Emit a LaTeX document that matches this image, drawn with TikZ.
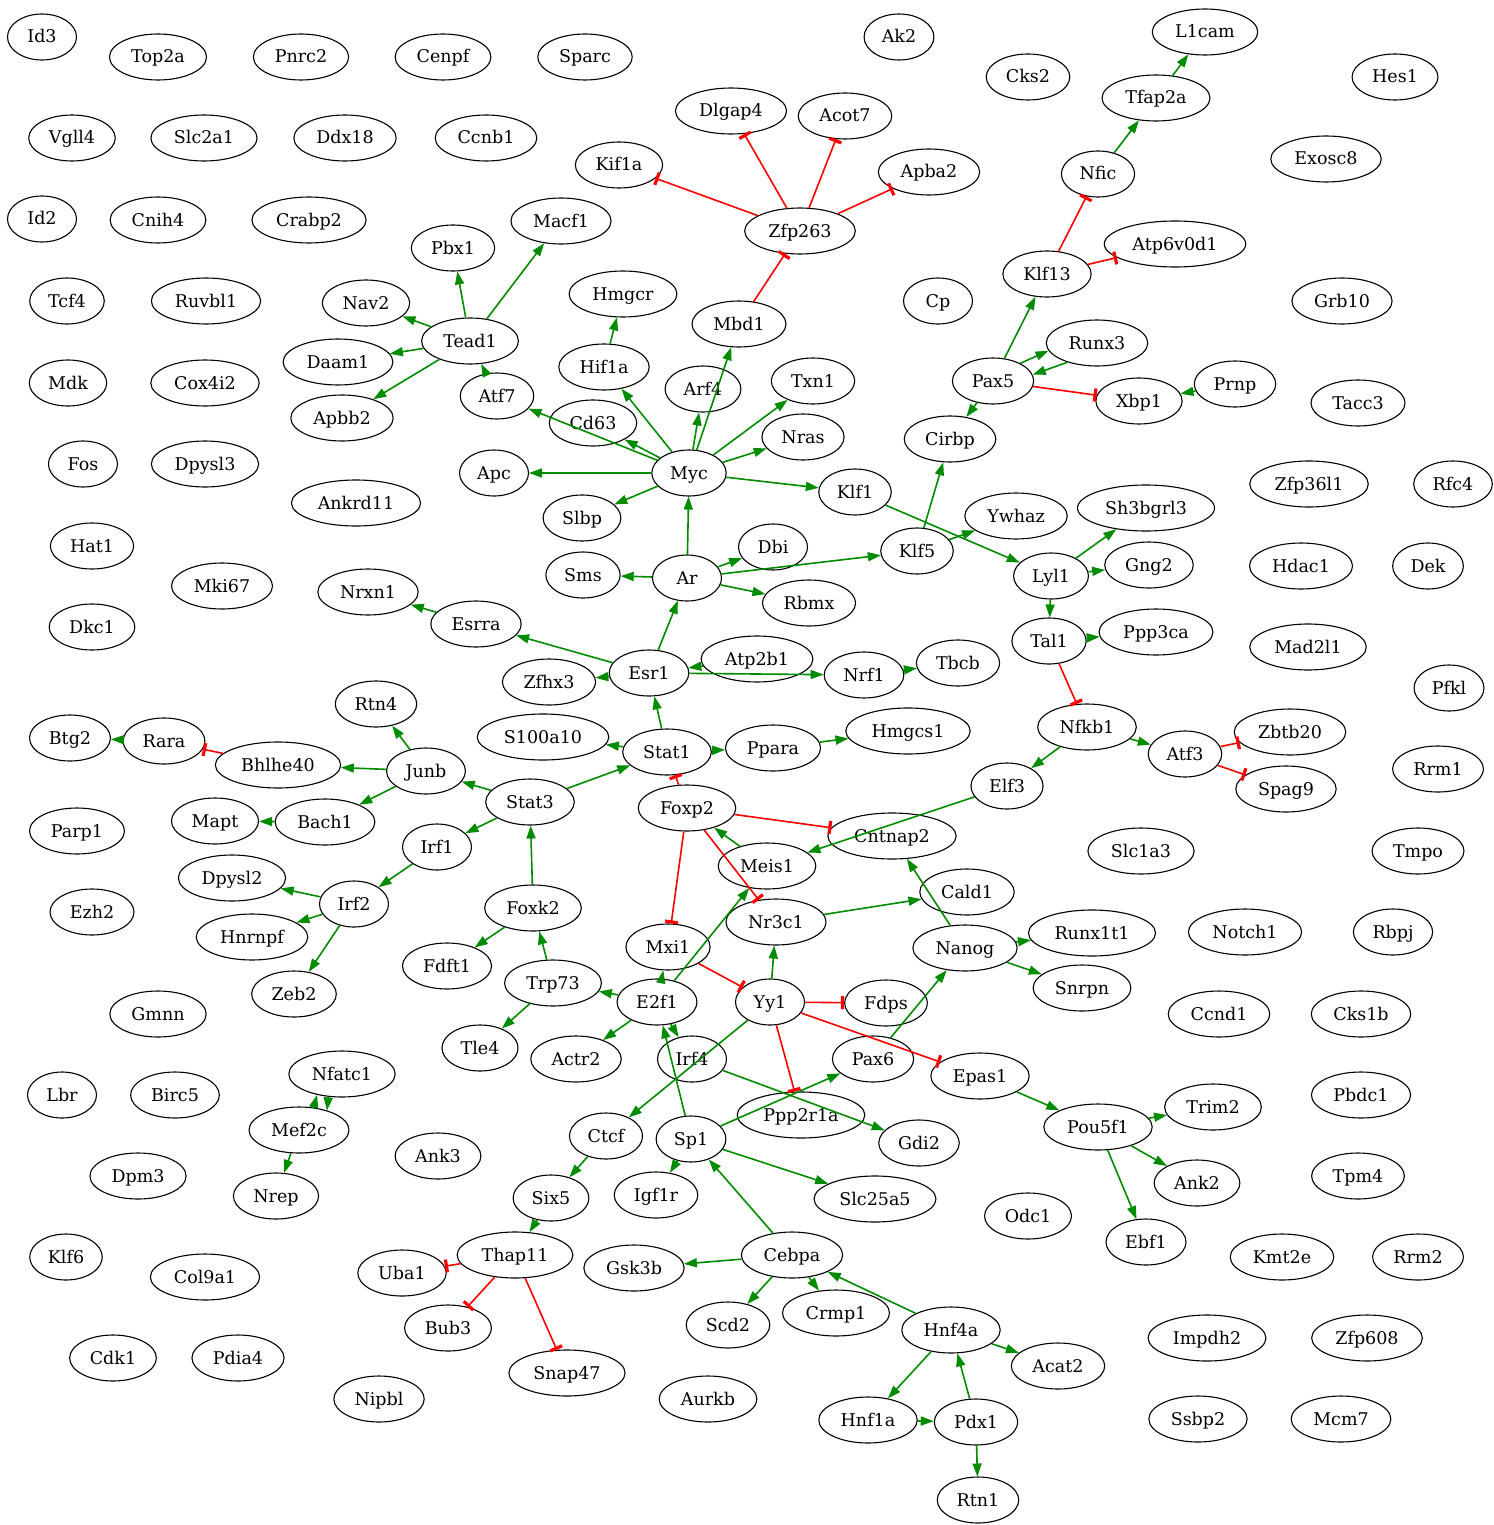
\documentclass[tikz,border=0pt]{standalone}
\usepackage{fontspec}
\setmainfont{DejaVu Serif}
\usetikzlibrary{shapes.geometric,arrows.meta}
\definecolor{grn}{RGB}{0,139,0}
\definecolor{rd}{RGB}{255,0,0}
\tikzset{
  g/.style={ellipse, draw=black, line width=1.1pt, minimum width=69pt, minimum height=46pt,
    inner xsep=7.5pt, inner ysep=2pt, text height=15pt, text depth=3pt,
    font=\fontsize{17.5}{20}\selectfont},
  act/.style={draw=grn, line width=1.6pt, -{Triangle[length=13pt,width=9pt]}},
  inh/.style={draw=rd, line width=1.6pt, -{Bar[width=13pt,line width=3.2pt]}}
}
\begin{document}
\begin{tikzpicture}[x=1pt,y=-1pt]
\useasboundingbox (0,0) rectangle (1493,1525);
\foreach \n/\x/\y in {
Id3/42/37, Top2a/158/57, Pnrc2/301/57, Cenpf/443/57, Sparc/585/57, Ak2/899/37, Cks2/1028/77,
L1cam/1205/32, Hes1/1395/77, Vgll4/72/138, Slc2a1/204/138, Ddx18/345/138, Ccnb1/486/138,
Dlgap4/731/111, Acot7/845/116, Tfap2a/1156/98, Exosc8/1326/159, Kif1a/619/165, Apba2/929/172,
Nfic/1098/174, Id2/42/219, Cnih4/158/220, Crabp2/309/220, Macf1/561/221, Zfp263/800/231,
Atp6v0d1/1175/244, Pbx1/453/248, Klf13/1047/274, Hmgcr/623/294, Tcf4/67/301, Ruvbl1/206/301,
Nav2/366/303, Cp/938/301, Grb10/1342/301, Mbd1/739/324, Tead1/470/341, Runx3/1097/343,
Daam1/338/362, Hif1a/604/367, Mdk/68/383, Cox4i2/205/383, Pax5/993/381, Txn1/813/381,
Prnp/1235/384, Arf4/703/389, Atf7/497/396, Xbp1/1139/401, Tacc3/1358/403, Apbb2/342/418,
Cd63/593/423, Nras/803/437, Cirbp/950/439, Fos/83/464, Dpysl3/205/464, Apc/494/473, Myc/689/473,
Zfp36l1/1309/484, Rfc4/1453/484, Klf1/855/492, Ankrd11/356/503, Sh3bgrl3/1146/508,
Ywhaz/1016/516, Slbp/582/518, Hat1/92/546, Dbi/773/547, Klf5/917/551, Hdac1/1301/566,
Dek/1428/566, Gng2/1149/565, Sms/583/575, Ar/687/578, Lyl1/1051/576, Mki67/222/586,
Nrxn1/368/592, Rbmx/809/603, Esrra/476/624, Dkc1/92/627, Ppp3ca/1156/632, Tal1/1049/641,
Mad2l1/1308/647, Atp2b1/757/659, Tbcb/958/663, Esr1/649/673, Nrf1/864/675, Zfhx3/549/682,
Pfkl/1449/688, Rtn4/376/704, Nfkb1/1087/727, Hmgcs1/908/731, Zbtb20/1290/732, S100a10/543/737,
Btg2/70/738, Rara/164/741, Ppara/773/748, Stat1/667/752, Atf3/1185/754, Bhlhe40/278/765,
Junb/426/771, Rrm1/1438/769, Elf3/1007/786, Spag9/1286/789, Stat3/530/802, Foxp2/687/808,
Mapt/215/821, Bach1/325/822, Parp1/77/831, Cntnap2/892/836, Irf1/437/847, Slc1a3/1141/851,
Tmpo/1418/851, Meis1/767/866, Dpysl2/232/878, Cald1/967/892, Irf2/354/904, Foxk2/533/908,
Ezh2/92/912, Nr3c1/776/922, Runx1t1/1092/933, Notch1/1245/932, Rbpj/1393/932, Hnrnpf/252/937,
Mxi1/668/947, Nanog/965/948, Fdft1/447/966, Trp73/553/983, Snrpn/1082/988, Zeb2/294/994,
E2f1/657/1002, Yy1/770/1002, Fdps/886/1003, Gmnn/158/1014, Ccnd1/1219/1014, Cks1b/1361/1014,
Tle4/480/1048, Actr2/576/1059, Irf4/692/1059, Pax6/873/1059, Nfatc1/342/1074, Epas1/980/1076,
Lbr/62/1095, Birc5/175/1095, Pbdc1/1361/1095, Trim2/1213/1107, Ppp2r1a/801/1115,
Pou5f1/1098/1127, Mef2c/299/1130, Ctcf/606/1136, Sp1/691/1139, Gdi2/919/1143, Ank3/438/1156,
Dpm3/138/1176, Tpm4/1358/1176, Ank2/1197/1183, Igf1r/656/1195, Nrep/276/1196, Six5/551/1198,
Slc25a5/875/1199, Odc1/1028/1216, Ebf1/1146/1242, Thap11/515/1255, Cebpa/792/1255,
Klf6/66/1257, Kmt2e/1282/1257, Rrm2/1418/1257, Gsk3b/634/1268, Uba1/402/1273, Col9a1/205/1277,
Crmp1/836/1313, Scd2/728/1325, Bub3/448/1328, Hnf4a/951/1330, Impdh2/1207/1338,
Zfp608/1367/1338, Cdk1/113/1358, Pdia4/238/1358, Acat2/1058/1366, Snap47/567/1373,
Nipbl/379/1399, Aurkb/708/1399, Ssbp2/1198/1419, Mcm7/1341/1419, Hnf1a/868/1420,
Pdx1/976/1422, Rtn1/978/1500}
  \node[g] (\n) at (\x,\y) {\n};
% activating edges
\foreach \a/\b in {
Tead1/Pbx1, Tead1/Macf1, Tead1/Nav2, Tead1/Daam1, Tead1/Apbb2, Atf7/Tead1,
Myc/Atf7, Myc/Cd63, Myc/Hif1a, Myc/Arf4, Myc/Mbd1, Myc/Txn1, Myc/Nras, Myc/Klf1, Myc/Apc, Myc/Slbp,
Hif1a/Hmgcr, Ar/Myc, Ar/Sms, Ar/Dbi, Ar/Klf5, Ar/Rbmx,
Esr1/Ar, Esr1/Esrra, Esr1/Zfhx3, Esr1/Nrf1, Atp2b1/Esr1, Esrra/Nrxn1, Nrf1/Tbcb,
Stat1/Esr1, Stat1/S100a10, Stat1/Ppara, Ppara/Hmgcs1,
Stat3/Stat1, Stat3/Junb, Stat3/Irf1, Foxk2/Stat3, Meis1/Foxp2, Elf3/Meis1,
Nfkb1/Elf3, Nfkb1/Atf3, Lyl1/Tal1, Lyl1/Gng2, Lyl1/Sh3bgrl3, Klf1/Lyl1, Tal1/Ppp3ca,
Klf5/Ywhaz, Klf5/Cirbp, Pax5/Cirbp, Pax5/Klf13, Prnp/Xbp1,
Nfic/Tfap2a, Tfap2a/L1cam,
Six5/Thap11, Ctcf/Six5, Yy1/Ctcf, Yy1/Nr3c1,
E2f1/Mxi1, E2f1/Meis1, E2f1/Trp73, E2f1/Actr2, E2f1/Irf4, Sp1/E2f1, Irf4/Gdi2,
Sp1/Pax6, Sp1/Igf1r, Sp1/Slc25a5,
Cebpa/Sp1, Cebpa/Gsk3b, Cebpa/Scd2, Cebpa/Crmp1,
Hnf4a/Cebpa, Hnf4a/Hnf1a, Hnf4a/Acat2, Pdx1/Hnf4a, Pdx1/Rtn1, Hnf1a/Pdx1,
Pax6/Nanog, Nanog/Cntnap2, Nanog/Runx1t1, Nanog/Snrpn, Nr3c1/Cald1,
Trp73/Foxk2, Trp73/Tle4, Foxk2/Fdft1,
Junb/Rtn4, Junb/Bhlhe40, Junb/Bach1, Rara/Btg2, Bach1/Mapt,
Irf1/Irf2, Irf2/Dpysl2, Irf2/Hnrnpf, Irf2/Zeb2, Mef2c/Nrep,
Pou5f1/Trim2, Pou5f1/Ank2, Pou5f1/Ebf1, Epas1/Pou5f1}
  \draw[act] (\a) -- (\b);
% two-way pairs, drawn side by side
\draw[act] (Pax5.33) -- (Runx3.189);
\draw[act] (Runx3.213) -- (Pax5.9);
\draw[act] (Mef2c.57) -- (Nfatc1.220);
\draw[act] (Nfatc1.239) -- (Mef2c.35);
% inhibiting edges
\foreach \a/\b in {
Mbd1/Zfp263, Zfp263/Kif1a, Zfp263/Dlgap4, Zfp263/Acot7, Zfp263/Apba2,
Foxp2/Stat1, Foxp2/Cntnap2, Foxp2/Mxi1, Foxp2/Nr3c1, Tal1/Nfkb1,
Atf3/Zbtb20, Atf3/Spag9, Pax5/Xbp1, Klf13/Nfic, Klf13/Atp6v0d1,
Thap11/Uba1, Thap11/Bub3, Thap11/Snap47, Yy1/Fdps, Yy1/Ppp2r1a, Yy1/Epas1,
Mxi1/Yy1, Bhlhe40/Rara}
  \draw[inh] (\a) -- (\b);
\end{tikzpicture}
\end{document}
